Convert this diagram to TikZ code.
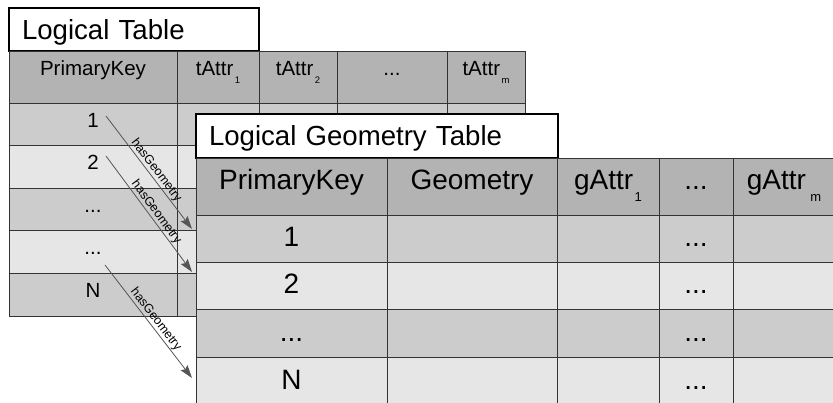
\documentclass[tikz,border=0pt]{standalone}
\usepackage{fontspec}
\setmainfont{Liberation Sans}
\usetikzlibrary{arrows.meta}
\definecolor{hdr}{HTML}{B3B3B3}
\definecolor{dk}{HTML}{CCCCCC}
\definecolor{lt}{HTML}{E6E6E6}
\definecolor{gridc}{HTML}{333333}
\definecolor{arrc}{HTML}{555555}
\newcommand\bsub[1]{\kern1.5pt\raisebox{-8pt}{\fontsize{9.5}{9.5}\selectfont #1}}
\newcommand\fsub[1]{\kern1.5pt\raisebox{-11.5pt}{\fontsize{13}{13}\selectfont #1}}
\begin{document}
\begin{tikzpicture}[x=1pt,y=-1pt,
  cell/.style={draw=gridc, line width=0.9pt, anchor=north west, inner sep=0pt, outer sep=0pt},
  bhead/.style={cell, fill=hdr, font=\fontsize{20.5}{20.5}\selectfont, text height=14.7pt, text depth=16.7pt},
  brow/.style={cell, font=\fontsize{20.5}{20.5}\selectfont, text height=14.7pt, text depth=7.7pt},
  fhead/.style={cell, fill=hdr, font=\fontsize{28}{28}\selectfont, text height=20pt, text depth=13pt},
  frow/.style={cell, font=\fontsize{28}{28}\selectfont, text height=20pt, text depth=3pt},
  titlebox/.style={draw=black, line width=2pt, fill=white, anchor=north west, inner ysep=0pt, inner xsep=13pt, outer sep=0pt, align=left, font=\fontsize{27.6}{27.6}\selectfont, text height=19.8pt, text depth=0pt},
  arrow/.style={draw=arrc, line width=0.8pt, -{Stealth[length=13pt,width=8.5pt,inset=2pt]}},
  lbl/.style={sloped, above, pos=0.52, inner sep=0.8pt, font=\fontsize{12.5}{12.5}\selectfont, text=black}
]
\useasboundingbox (0,0) rectangle (833,403);
\clip (0,0) rectangle (833,403);

% ---------- Logical Table (back) ----------
\node[titlebox, text width=224pt, minimum height=43pt] (btitle) at (9,8) {Logical Table};

\node[bhead, minimum width=168pt, minimum height=52pt] (bh1) at (9,51) {PrimaryKey};
\node[bhead, minimum width=82pt, minimum height=52pt] (bh2) at (177,51) {tAttr\bsub{1}};
\node[bhead, minimum width=78pt, minimum height=52pt] (bh3) at (259,51) {tAttr\bsub{2}};
\node[bhead, minimum width=110pt, minimum height=52pt] (bh4) at (337,51) {...};
\node[bhead, minimum width=78pt, minimum height=52pt] (bh5) at (447,51) {tAttr\bsub{m}};

% rows
\node[brow, fill=dk, minimum width=168pt, minimum height=42pt] (b11) at (9,103) {1};
\node[brow, fill=dk, minimum width=82pt, minimum height=42pt] (b12) at (177,103) {};
\node[brow, fill=dk, minimum width=78pt, minimum height=42pt] (b13) at (259,103) {};
\node[brow, fill=dk, minimum width=110pt, minimum height=42pt] (b14) at (337,103) {};
\node[brow, fill=dk, minimum width=78pt, minimum height=42pt] (b15) at (447,103) {};

\node[brow, fill=lt, minimum width=168pt, minimum height=43pt] (b21) at (9,145) {2};
\node[brow, fill=lt, minimum width=82pt, minimum height=43pt] (b22) at (177,145) {};
\node[brow, fill=lt, minimum width=78pt, minimum height=43pt] (b23) at (259,145) {};
\node[brow, fill=lt, minimum width=110pt, minimum height=43pt] (b24) at (337,145) {};
\node[brow, fill=lt, minimum width=78pt, minimum height=43pt] (b25) at (447,145) {};

\node[brow, fill=dk, minimum width=168pt, minimum height=42pt] (b31) at (9,188) {...};
\node[brow, fill=dk, minimum width=82pt, minimum height=42pt] (b32) at (177,188) {};

\node[brow, fill=lt, minimum width=168pt, minimum height=43pt] (b41) at (9,230) {...};
\node[brow, fill=lt, minimum width=82pt, minimum height=43pt] (b42) at (177,230) {};

\node[brow, fill=dk, minimum width=168pt, minimum height=43pt] (b51) at (9,273) {N};
\node[brow, fill=dk, minimum width=82pt, minimum height=43pt] (b52) at (177,273) {};

% ---------- Logical Geometry Table (front) ----------
\node[titlebox, text width=335.5pt, minimum height=44pt] (ftitle) at (196,114) {Logical Geometry Table};

\node[fhead, minimum width=191pt, minimum height=57pt] (fh1) at (196,158) {PrimaryKey};
\node[fhead, minimum width=170pt, minimum height=57pt] (fh2) at (387,158) {Geometry};
\node[fhead, minimum width=102pt, minimum height=57pt] (fh3) at (557,158) {gAttr\fsub{1}};
\node[fhead, minimum width=74pt, minimum height=57pt] (fh4) at (659,158) {...};
\node[fhead, minimum width=102pt, minimum height=57pt] (fh5) at (733,158) {gAttr\kern3pt\fsub{m}};

\node[frow, fill=dk, minimum width=191pt, minimum height=47pt] (f11) at (196,215) {1};
\node[frow, fill=dk, minimum width=170pt, minimum height=47pt] (f12) at (387,215) {};
\node[frow, fill=dk, minimum width=102pt, minimum height=47pt] (f13) at (557,215) {};
\node[frow, fill=dk, minimum width=74pt, minimum height=47pt] (f14) at (659,215) {...};
\node[frow, fill=dk, minimum width=102pt, minimum height=47pt] (f15) at (733,215) {};

\node[frow, fill=lt, minimum width=191pt, minimum height=47pt] (f21) at (196,262) {2};
\node[frow, fill=lt, minimum width=170pt, minimum height=47pt] (f22) at (387,262) {};
\node[frow, fill=lt, minimum width=102pt, minimum height=47pt] (f23) at (557,262) {};
\node[frow, fill=lt, minimum width=74pt, minimum height=47pt] (f24) at (659,262) {...};
\node[frow, fill=lt, minimum width=102pt, minimum height=47pt] (f25) at (733,262) {};

\node[frow, fill=dk, minimum width=191pt, minimum height=48pt] (f31) at (196,309) {...};
\node[frow, fill=dk, minimum width=170pt, minimum height=48pt] (f32) at (387,309) {};
\node[frow, fill=dk, minimum width=102pt, minimum height=48pt] (f33) at (557,309) {};
\node[frow, fill=dk, minimum width=74pt, minimum height=48pt] (f34) at (659,309) {...};
\node[frow, fill=dk, minimum width=102pt, minimum height=48pt] (f35) at (733,309) {};

\node[frow, fill=lt, minimum width=191pt, minimum height=47.5pt] (f41) at (196,357) {N};
\node[frow, fill=lt, minimum width=170pt, minimum height=47.5pt] (f42) at (387,357) {};
\node[frow, fill=lt, minimum width=102pt, minimum height=47.5pt] (f43) at (557,357) {};
\node[frow, fill=lt, minimum width=74pt, minimum height=47.5pt] (f44) at (659,357) {...};
\node[frow, fill=lt, minimum width=102pt, minimum height=47.5pt] (f45) at (733,357) {};

% ---------- hasGeometry arrows ----------
\coordinate (s1) at (106,116);
\coordinate (e1) at (192,229);
\coordinate (s2) at (106,156);
\coordinate (e2) at (192,272);
\coordinate (s3) at (105,265);
\coordinate (e3) at (192,378);
\draw[arrow] (s1) -- node[lbl] {hasGeometry} (e1);
\draw[arrow] (s2) -- node[lbl] {hasGeometry} (e2);
\draw[arrow] (s3) -- node[lbl] {hasGeometry} (e3);
\end{tikzpicture}
\end{document}
